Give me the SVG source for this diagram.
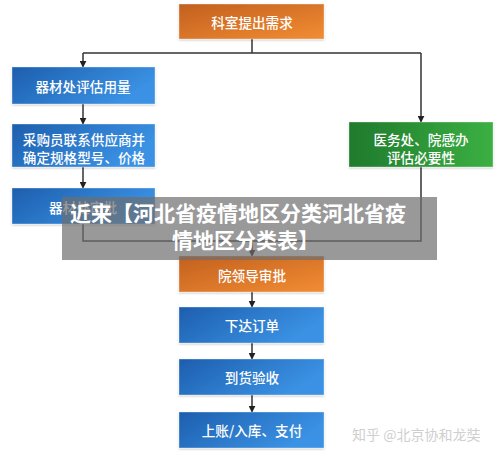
<svg xmlns="http://www.w3.org/2000/svg" width="500" height="457" viewBox="0 0 500 457">
<defs>
<linearGradient id="gOrange" x1="0" y1="0" x2="1" y2="1">
<stop offset="0" stop-color="#c2601f"/>
<stop offset="1" stop-color="#f28c33"/>
</linearGradient>
<linearGradient id="gBlue" x1="0" y1="0" x2="1" y2="0.4">
<stop offset="0" stop-color="#1d5eae"/>
<stop offset="1" stop-color="#3b92e4"/>
</linearGradient>
<linearGradient id="gGreen" x1="0" y1="0" x2="1" y2="0">
<stop offset="0" stop-color="#1f7a2c"/>
<stop offset="1" stop-color="#3bb043"/>
</linearGradient>
<marker id="arr" viewBox="0 0 10 10" refX="9" refY="5" markerWidth="7" markerHeight="7" orient="auto" markerUnits="userSpaceOnUse">
<path d="M0,0 L10,5 L0,10 z" fill="#222"/>
</marker>
<filter id="sh" x="-10%" y="-10%" width="120%" height="130%">
<feDropShadow dx="0" dy="1" stdDeviation="1" flood-color="#000" flood-opacity="0.25"/>
</filter>
</defs>
<style>
.box{stroke:#ffffff;stroke-opacity:0.35;stroke-width:1;filter:url(#sh)}
.lbl{font-family:"Noto Sans CJK SC","Noto Sans",sans-serif;font-size:13.6px;fill:#ffffff;text-anchor:middle;dominant-baseline:central;font-weight:500}
.conn path{fill:none;stroke:#333;stroke-width:1.5}
.ov{font-family:"Noto Sans CJK SC","Noto Sans",sans-serif;font-size:21px;font-weight:bold;fill:#ffffff}
.wm{font-family:"Noto Sans CJK SC","Noto Sans",sans-serif;font-size:14px;fill:#cfcfcf}
</style>
<rect width="500" height="457" fill="#ffffff"/>
<g class="conn">
<path d="M252,39 V53"/>
<path d="M83,53 H421"/>
<path d="M83,53 V67" marker-end="url(#arr)"/>
<path d="M421,53 V122" marker-end="url(#arr)"/>
<path d="M83,104 V124" marker-end="url(#arr)"/>
<path d="M83,167 V188" marker-end="url(#arr)"/>
<path d="M83,224 V241 H421 V167"/>
<path d="M252,241 V256" marker-end="url(#arr)"/>
<path d="M252,292 V307" marker-end="url(#arr)"/>
<path d="M252,343 V359" marker-end="url(#arr)"/>
<path d="M252,395 V412" marker-end="url(#arr)"/>
</g>
<g id="n1"><rect class="box" x="179" y="4" width="145" height="35" fill="url(#gOrange)"/><text class="lbl" x="252" y="22">科室提出需求</text></g>
<g id="n2"><rect class="box" x="12" y="67" width="143" height="37" fill="url(#gBlue)"/><text class="lbl" x="83" y="86">器材处评估用量</text></g>
<g id="n3"><rect class="box" x="12" y="124" width="143" height="43" fill="url(#gBlue)"/><text class="lbl" x="84" y="139">采购员联系供应商并</text><text class="lbl" x="84" y="157">确定规格型号、价格</text></g>
<g id="n4"><rect class="box" x="12" y="188" width="143" height="36" fill="url(#gBlue)"/><text class="lbl" x="83" y="207">器材处审批</text></g>
<g id="n5"><rect class="box" x="349" y="122" width="144" height="45" fill="url(#gGreen)"/><text class="lbl" x="421" y="139">医务处、院感办</text><text class="lbl" x="421" y="157">评估必要性</text></g>
<g id="n6"><rect class="box" x="179" y="256" width="145" height="36" fill="url(#gOrange)"/><text class="lbl" x="252" y="275">院领导审批</text></g>
<g id="n7"><rect class="box" x="179" y="307" width="145" height="36" fill="url(#gBlue)"/><text class="lbl" x="252" y="325">下达订单</text></g>
<g id="n8"><rect class="box" x="179" y="359" width="145" height="36" fill="url(#gBlue)"/><text class="lbl" x="252" y="377">到货验收</text></g>
<g id="n9"><rect class="box" x="179" y="412" width="145" height="36" fill="url(#gBlue)"/><text class="lbl" x="252" y="430">上账/入库、支付</text></g>
<rect x="62" y="197" width="375" height="63" fill="#6e6e6e" fill-opacity="0.7"/>
<text class="ov" x="70" y="221">近来【河北省疫情地区分类河北省疫</text>
<text class="ov" x="172" y="248">情地区分类表】</text>
<text class="wm" x="352" y="440">知乎 @北京协和龙奘</text>
</svg>
